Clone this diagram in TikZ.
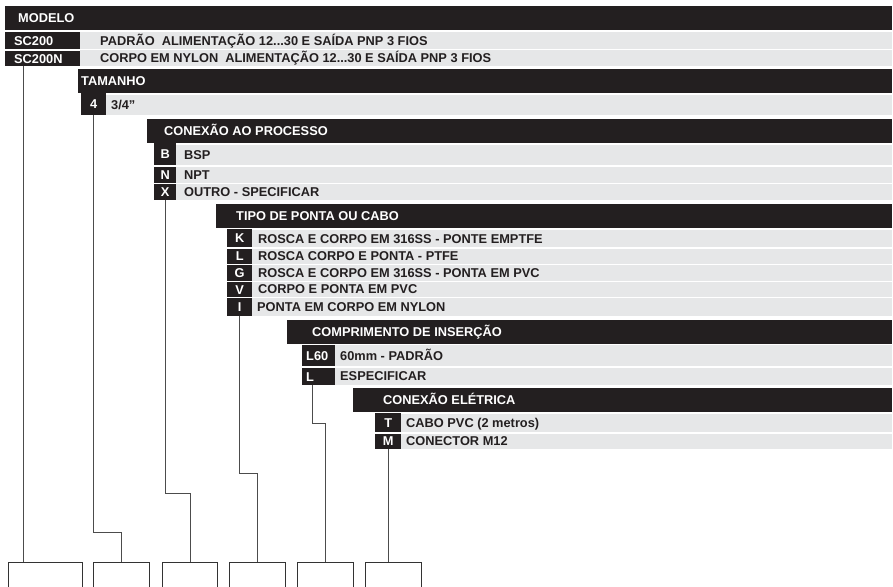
\documentclass[tikz,border=0pt]{standalone}
\usepackage{fontspec}
\setmainfont{Liberation Sans}
\definecolor{preto}{HTML}{231F20}
\definecolor{cinza}{HTML}{E6E7E8}
\begin{document}
\begin{tikzpicture}[x=1pt,y=-1pt,font=\fontsize{12.8}{14}\selectfont\bfseries,
  desc/.style={anchor=west,inner sep=0,text=preto,text height=9.2,text depth=0},
  titulo/.style={desc,text=white},
  cod/.style={anchor=north west,fill=preto,text=white,inner sep=0,text height=9.2,text depth=0},
  codl/.style={cod,align=left,inner xsep=9,text width=57},
  codm/.style={cod,align=left,inner xsep=4,text width=25},
  caixa/.style={anchor=north west,draw=black!80,line width=0.8pt,minimum height=40},
  liga/.style={draw=black!70,line width=0.8pt}]
\useasboundingbox (0,0) rectangle (893,586);

%Modelo
\fill[preto] (5,6) rectangle (892,30);
\node[titulo] (modelo) at (18,18) {MODELO};
\fill[cinza] (80,32) rectangle (892,49);
\fill[cinza] (80,50.5) rectangle (892,66);
\node[codl,minimum height=17] (sc200) at (5,32) {SC200};
\node[codl,minimum height=15.5] (sc200n) at (5,50.5) {SC200N};
\node[desc] (dsc200) at (100,40.5) {PADRÃO~ ALIMENTAÇÃO 12...30 E SAÍDA PNP 3 FIOS};
\node[desc] (dsc200n) at (100,58.25) {CORPO EM NYLON~ ALIMENTAÇÃO 12...30 E SAÍDA PNP 3 FIOS};

%Tamanho
\fill[preto] (78,69) rectangle (892,93);
\node[titulo] (tamanho) at (81,81) {TAMANHO};
\fill[cinza] (106,95) rectangle (892,115);
\node[cod,minimum width=25,minimum height=22] (c4) at (81,93) {4};
\node[desc] (d4) at (111,105) {3/4”};

%Conexao ao processo
\fill[preto] (147,119) rectangle (892,143);
\node[titulo] (processo) at (164,131) {CONEXÃO AO PROCESSO};
\fill[cinza] (176,145) rectangle (892,165);
\fill[cinza] (176,166.5) rectangle (892,182.5);
\fill[cinza] (176,184) rectangle (892,200);
\node[cod,minimum width=22,minimum height=22] (cb) at (154,143) {B};
\node[cod,minimum width=22,minimum height=16] (cn) at (154,166.5) {N};
\node[cod,minimum width=22,minimum height=16] (cx) at (154,184) {X};
\node[desc] (db) at (184,155) {BSP};
\node[desc] (dn) at (184,174.5) {NPT};
\node[desc] (dx) at (184,192) {OUTRO - SPECIFICAR};

%Tipo de ponta
\fill[preto] (216,204) rectangle (892,228);
\node[titulo] (tipo) at (236,216) {TIPO DE PONTA OU CABO};
\fill[cinza] (252,230) rectangle (892,247);
\fill[cinza] (252,248.5) rectangle (892,263.5);
\fill[cinza] (252,265) rectangle (892,280.5);
\fill[cinza] (252,282) rectangle (892,296.5);
\fill[cinza] (252,298) rectangle (892,316);
\node[cod,minimum width=25,minimum height=18.5] (ck) at (227,228.5) {K};
\node[cod,minimum width=25,minimum height=15] (cl2) at (227,248.5) {L};
\node[cod,minimum width=25,minimum height=15.5] (cg) at (227,265) {G};
\node[cod,minimum width=25,minimum height=14.5] (cv) at (227,282) {V};
\node[cod,minimum width=25,minimum height=18] (ci) at (227,298) {I};
\node[desc] (dk) at (258,238.5) {ROSCA E CORPO EM 316SS - PONTE EMPTFE};
\node[desc] (dl2) at (258,256) {ROSCA CORPO E PONTA - PTFE};
\node[desc] (dg) at (258,272.75) {ROSCA E CORPO EM 316SS - PONTA EM PVC};
\node[desc] (dv) at (258,289.25) {CORPO E PONTA EM PVC};
\node[desc] (di) at (257,307) {PONTA EM CORPO EM NYLON};

%Comprimento
\fill[preto] (287,320) rectangle (892,343.5);
\node[titulo] (comprimento) at (312,331.75) {COMPRIMENTO DE INSERÇÃO};
\fill[cinza] (335,345) rectangle (892,366);
\fill[cinza] (335,367.5) rectangle (892,385);
\node[codm,minimum height=21] (cl60) at (302,345) {L60};
\node[codm,minimum height=17.5] (cl) at (302,367.5) {L};
\node[desc] (dl60) at (340,355.5) {60mm - PADRÃO};
\node[desc] (dl) at (340,376.25) {ESPECIFICAR};

%Conexao eletrica
\fill[preto] (353,388) rectangle (892,412);
\node[titulo] (eletrica) at (383,400) {CONEXÃO ELÉTRICA};
\fill[cinza] (401,414) rectangle (892,432);
\fill[cinza] (401,433.5) rectangle (892,448.5);
\node[cod,minimum width=26,minimum height=19.5] (ct) at (375,412.5) {T};
\node[cod,minimum width=26,minimum height=15] (cm) at (375,433.5) {M};
\node[desc] (dt) at (406,423) {CABO PVC (2 metros)};
\node[desc] (dm) at (406,441) {CONECTOR M12};

%Caixas
\node[caixa,minimum width=74] (caixa1) at (8,562) {};
\node[caixa,minimum width=56] (caixa2) at (93,562) {};
\node[caixa,minimum width=55] (caixa3) at (162,562) {};
\node[caixa,minimum width=56] (caixa4) at (229,562) {};
\node[caixa,minimum width=56] (caixa5) at (297,562) {};
\node[caixa,minimum width=56] (caixa6) at (365,562) {};

%Ligacoes
\path (sc200n.south west) ++(18,0) coordinate (s1);
\draw[liga] (s1) -- (s1 |- caixa1.north);
\path (caixa2.north) ++(0,-30) coordinate (q2);
\draw[liga] (c4.south) |- (q2) -- (caixa2.north);
\path (caixa3.north) ++(0,-69) coordinate (q3);
\draw[liga] (cx.south) |- (q3) -- (caixa3.north);
\path (caixa4.north) ++(0,-89) coordinate (q4);
\draw[liga] (ci.south) |- (q4) -- (caixa4.north);
\path (cl.south west) ++(10,0) coordinate (s5);
\path (caixa5.north) ++(0,-139) coordinate (q5);
\draw[liga] (s5) |- (q5) -- (caixa5.north);
\draw[liga] (cm.south) -- (cm.south |- caixa6.north);

\end{tikzpicture}
\end{document}
